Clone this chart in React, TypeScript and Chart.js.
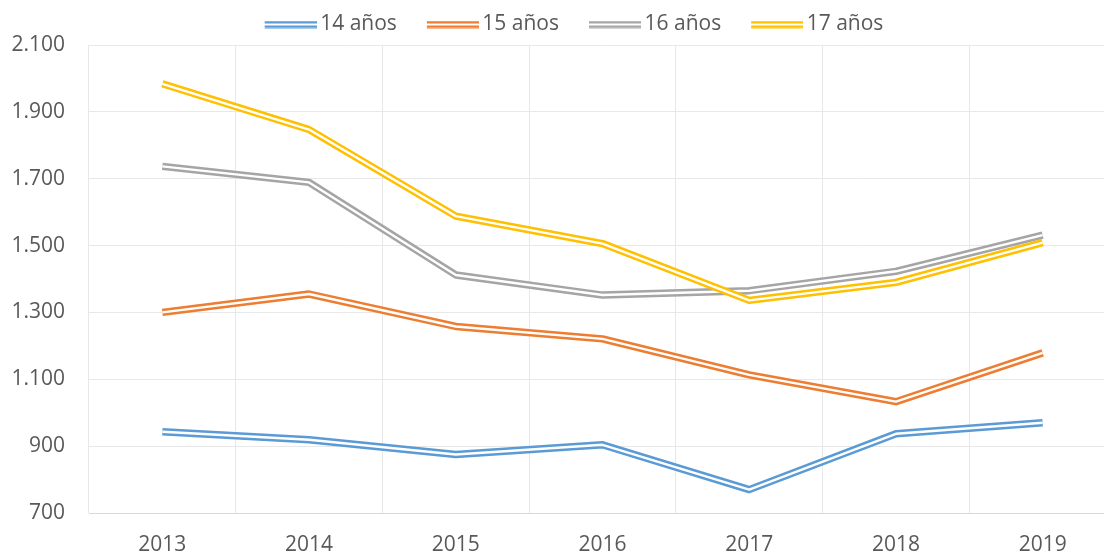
import React, { useEffect, useRef } from "react";
import { Chart, registerables } from "chart.js";

Chart.register(...registerables);

const years = ["2013", "2014", "2015", "2016", "2017", "2018", "2019"];
const seriesNames = ["14 años", "15 años", "16 años", "17 años"];
const age14 = [943, 919, 875, 904, 770, 937, 970];
const age15 = [1300, 1355, 1258, 1221, 1113, 1033, 1179];
const age16 = [1737, 1689, 1412, 1352, 1365, 1423, 1531];
const age17 = [1984, 1847, 1588, 1506, 1336, 1390, 1509];
const colors = ["#5B9BD5", "#ED7D31", "#A5A5A5", "#FFC000"];
const yMin = 700;
const yMax = 2100;
const yStep = 200;

const fmt = (v: number) => String(v).replace(/\B(?=(\d{3})+(?!\d))/g, ".");

function legendImage(color: string): HTMLCanvasElement {
  const c = document.createElement("canvas");
  c.width = 79;
  c.height = 8;
  const ctx = c.getContext("2d")!;
  ctx.fillStyle = color;
  ctx.fillRect(27, 0.5, 52, 2.5);
  ctx.fillRect(27, 5, 52, 2.5);
  return c;
}

const doubleLine = {
  id: "doubleLine",
  afterLayout(chart: any) {
    const lg = chart.legend;
    if (lg) {
      lg.left += 6;
      lg.right += 6;
    }
  },
  afterDatasetDraw(chart: any, args: any) {
    const pts = args.meta.data;
    if (!pts || pts.length < 2) return;
    const ctx = chart.ctx;
    const a = chart.chartArea;
    ctx.save();
    ctx.beginPath();
    ctx.rect(a.left, a.top - 10, a.right - a.left, a.bottom - a.top + 20);
    ctx.clip();
    ctx.strokeStyle = "#FFFFFF";
    ctx.lineWidth = 2.4;
    ctx.lineJoin = "round";
    ctx.lineCap = "butt";
    ctx.beginPath();
    ctx.moveTo(pts[0].x, pts[0].y);
    for (let i = 1; i < pts.length; i++) ctx.lineTo(pts[i].x, pts[i].y);
    ctx.stroke();
    ctx.restore();
  },
};

export default function App() {
  const ref = useRef<HTMLCanvasElement>(null);
  useEffect(() => {
    const values = [age14, age15, age16, age17];
    const images = colors.map(legendImage);
    const chart = new Chart(ref.current!, {
      type: "line",
      data: {
        labels: years,
        datasets: seriesNames.map((name, i) => ({
          label: name,
          data: values[i],
          borderColor: colors[i],
          backgroundColor: colors[i],
          borderWidth: 7.4,
          pointRadius: 0,
          pointHoverRadius: 0,
          tension: 0,
          fill: false,
          borderJoinStyle: "round" as const,
          order: 3 - i,
          pointStyle: images[i] as any,
        })),
      },
      options: {
        animation: false,
        responsive: false,
        devicePixelRatio: 1,
        layout: { padding: { top: 4, right: 0, left: 0, bottom: 0 } },
        font: { family: "'Open Sans'", size: 21 },
        plugins: {
          legend: {
            position: "top",
            labels: {
              usePointStyle: true,
              pointStyleWidth: 65,
              padding: 10,
              color: "#595959",
              font: { family: "'Open Sans'", size: 21 },
              sort: (a: any, b: any) => a.datasetIndex - b.datasetIndex,
            },
          },
          tooltip: { enabled: false },
        },
        scales: {
          x: {
            offset: true,
            grid: { color: "#E8E8E8", lineWidth: 1, drawTicks: false, offset: true },
            border: { color: "#D9D9D9", width: 1 },
            ticks: {
              color: "#595959",
              font: { family: "'Open Sans'", size: 21 },
              padding: 19,
              maxRotation: 0,
            },
            afterFit: (s: any) => {
              s.height = 41;
            },
          },
          y: {
            min: yMin,
            max: yMax,
            grid: { color: "#E8E8E8", lineWidth: 1, drawTicks: false },
            border: { display: false },
            ticks: {
              stepSize: yStep,
              color: "#595959",
              font: { family: "'Open Sans'", size: 21 },
              padding: 24,
              callback: (v: any) => fmt(Number(v)),
            },
            afterFit: (s: any) => {
              s.width = 89;
            },
          },
        },
      },
      plugins: [doubleLine],
    });
    return () => chart.destroy();
  }, []);
  return (
    <div
      style={{
        position: "fixed",
        left: 0,
        top: 0,
        width: 1104,
        height: 554,
        overflow: "hidden",
        background: "#FFFFFF",
      }}
    >
      <canvas ref={ref} width={1116} height={554} style={{ display: "block" }} />
    </div>
  );
}
